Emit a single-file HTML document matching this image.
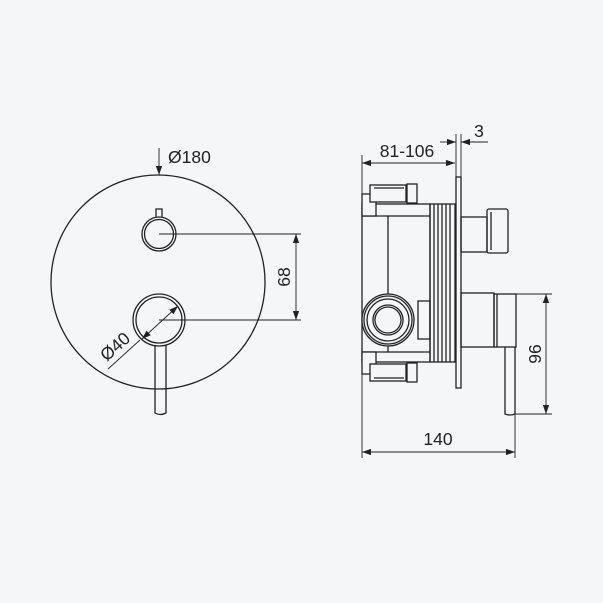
<!DOCTYPE html>
<html><head><style>
html,body{margin:0;padding:0;background:#f5f6f8;}
svg{display:block;}
text{font-family:"Liberation Sans",sans-serif;fill:#222;}
</style></head><body>
<svg width="603" height="603" viewBox="0 0 603 603" xmlns="http://www.w3.org/2000/svg">
<defs>
<marker id="a" viewBox="0 0 10 10" refX="10" refY="5" markerWidth="9" markerHeight="9" orient="auto-start-reverse" markerUnits="userSpaceOnUse"><path d="M0,1.5 L10,5 L0,8.5 z" fill="#222"/></marker>
</defs>
<rect width="603" height="603" fill="#f5f6f8"/>
<g fill="none" stroke="#222" stroke-width="1.3">
<circle cx="158" cy="282" r="107"/>
<path d="M156,218 L156,209 L162,209 L162,218"/>
<circle cx="159" cy="234" r="17" fill="#f5f6f8"/>
<circle cx="159" cy="234" r="14.5"/>
<path d="M155,345 L155,413 Q160,416 166,413 L166,345"/>
<circle cx="159" cy="320" r="26" fill="#f5f6f8"/>
<circle cx="159" cy="320" r="23"/>
<g stroke-width="0.9">
<line x1="159" y1="234" x2="301" y2="234"/>
<line x1="159" y1="320" x2="301" y2="320"/>
<line x1="296" y1="234" x2="296" y2="320" marker-start="url(#a)" marker-end="url(#a)"/>
<line x1="159" y1="148" x2="159" y2="175" marker-end="url(#a)"/>
<line x1="108" y1="369" x2="140" y2="340"/>
<line x1="142" y1="339" x2="178" y2="306" marker-start="url(#a)" marker-end="url(#a)"/>
</g>
<g stroke-width="0.9">
<line x1="362" y1="155" x2="362" y2="458"/>
<line x1="362" y1="163" x2="455" y2="163" marker-start="url(#a)" marker-end="url(#a)"/>
<line x1="456" y1="134" x2="456" y2="177"/>
<line x1="461" y1="134" x2="461" y2="177"/>
<line x1="440" y1="142" x2="456" y2="142" marker-end="url(#a)"/>
<line x1="488" y1="142" x2="461" y2="142" marker-end="url(#a)"/>
<line x1="515" y1="294" x2="552" y2="294"/>
<line x1="515" y1="414" x2="552" y2="414"/>
<line x1="546" y1="294" x2="546" y2="414" marker-start="url(#a)" marker-end="url(#a)"/>
<line x1="515" y1="414" x2="515" y2="458"/>
<line x1="362" y1="452" x2="515" y2="452" marker-start="url(#a)" marker-end="url(#a)"/>
</g>
<rect x="362" y="204" width="68" height="158"/>
<line x1="362" y1="216" x2="430" y2="216"/>
<line x1="362" y1="352" x2="430" y2="352"/>
<line x1="388" y1="216" x2="388" y2="352"/>
<rect x="362" y="194" width="14" height="22" fill="#f5f6f8"/>
<rect x="362" y="352" width="14" height="22" fill="#f5f6f8"/>
<rect x="370" y="185" width="36" height="17" fill="#f5f6f8"/>
<line x1="374" y1="188" x2="404" y2="188"/>
<rect x="370" y="364" width="36" height="17" fill="#f5f6f8"/>
<line x1="374" y1="378" x2="404" y2="378"/>
<rect x="407" y="184" width="10" height="19" fill="#f5f6f8"/>
<rect x="407" y="363" width="10" height="19" fill="#f5f6f8"/>
<rect x="418" y="301" width="12" height="38"/>
<rect x="430" y="204" width="25" height="158"/>
<line x1="434" y1="204" x2="434" y2="362"/>
<line x1="438" y1="204" x2="438" y2="362"/>
<line x1="442" y1="204" x2="442" y2="362"/>
<line x1="446" y1="204" x2="446" y2="362"/>
<line x1="450" y1="204" x2="450" y2="362"/>
<circle cx="388" cy="320" r="26" fill="#f5f6f8"/>
<circle cx="388" cy="320" r="24"/>
<circle cx="388" cy="320" r="21"/>
<circle cx="388" cy="320" r="15"/>
<circle cx="388" cy="320" r="13"/>
<rect x="456" y="177" width="5" height="211" fill="#f5f6f8"/>
<rect x="461" y="217" width="26" height="35"/>
<rect x="487" y="209" width="21" height="44" rx="2"/>
<line x1="491" y1="212" x2="491" y2="250"/>
<rect x="461" y="293" width="33" height="54"/>
<rect x="494" y="294" width="22" height="53"/>
<line x1="497" y1="294" x2="497" y2="347"/>
<path d="M505,347 L505,414 Q510,416 515,414 L515,347"/>
</g>
<text x="168" y="163" font-size="17.5">Ø180</text>
<text font-size="17.5" transform="translate(290,277) rotate(-90)" text-anchor="middle">68</text>
<text font-size="17.5" transform="translate(119,351) rotate(-42)" text-anchor="middle">Ø40</text>
<text x="407" y="157" font-size="17.5" text-anchor="middle">81-106</text>
<text x="479" y="137" font-size="17.5" text-anchor="middle">3</text>
<text font-size="17.5" transform="translate(541,354) rotate(-90)" text-anchor="middle">96</text>
<text x="438" y="445" font-size="17.5" text-anchor="middle">140</text>
</svg>
</body></html>
